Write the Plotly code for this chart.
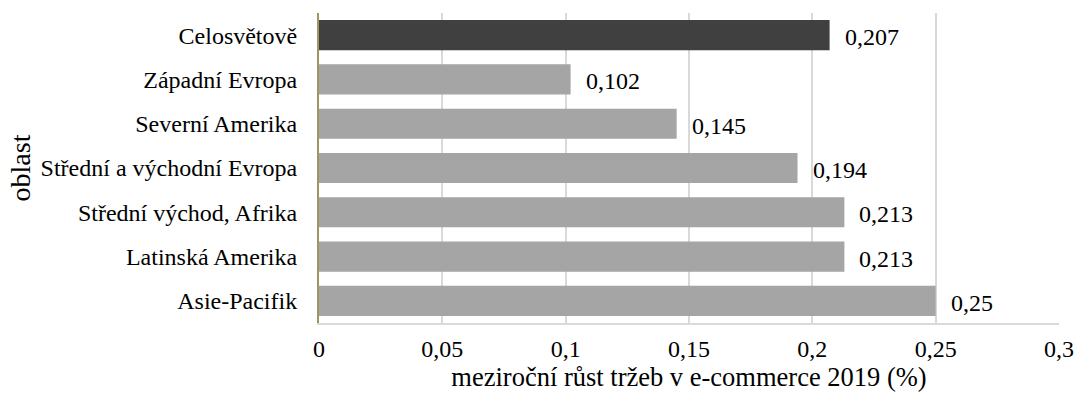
import plotly.graph_objects as go

categories = ["Celosvětově", "Západní Evropa", "Severní Amerika",
              "Střední a východní Evropa", "Střední východ, Afrika",
              "Latinská Amerika", "Asie-Pacifik"]
values = [0.207, 0.102, 0.145, 0.194, 0.213, 0.213, 0.25]
value_labels = ["0,207", "0,102", "0,145", "0,194", "0,213", "0,213", "0,25"]
bar_colors = ["#404040"] + ["#a5a5a5"] * 6
tick_vals = [0, 0.05, 0.1, 0.15, 0.2, 0.25, 0.3]
tick_text = ["0", "0,05", "0,1", "0,15", "0,2", "0,25", "0,3"]

FONT = "Liberation Serif"

fig = go.Figure()
fig.add_trace(go.Bar(
    y=categories, x=values, orientation="h",
    marker=dict(color=bar_colors, line=dict(width=0)),
    width=0.68, showlegend=False, hoverinfo="skip",
))

for c, v, t in zip(categories, values, value_labels):
    fig.add_annotation(x=v, y=c, text=t, showarrow=False, xanchor="left",
                       xshift=13, yshift=-2, font=dict(family=FONT, size=24, color="#000"))

fig.update_layout(
    width=1076, height=401,
    margin=dict(l=319, r=17, t=13, b=78),
    paper_bgcolor="white", plot_bgcolor="white",
    font=dict(family=FONT, size=24, color="#000"),
)
fig.update_xaxes(
    range=[0, 0.3], tickvals=tick_vals, ticktext=tick_text,
    showgrid=True, gridcolor="#d9d9d9", gridwidth=2,
    showline=True, linecolor="#d9d9d9", linewidth=2,
    zeroline=False, ticks="", ticklen=0, automargin=False,
    ticklabelstandoff=3,
    title=dict(text="meziroční růst tržeb v e-commerce 2019 (%)", standoff=3,
               font=dict(family=FONT, size=26.5)),
    tickfont=dict(family=FONT, size=24),
)
fig.update_yaxes(
    autorange="reversed", showline=True, linecolor="#a09462", linewidth=2,
    showgrid=False, ticks="", ticklen=0, automargin=False,
    ticklabelstandoff=15,
    title=dict(text="oblast", standoff=2, font=dict(family=FONT, size=28)),
    tickfont=dict(family=FONT, size=24),
)

fig.write_html(
    "out.html",
    config={"displayModeBar": False},
    default_width="1076px", default_height="401px",
    post_script="document.body.style.margin='0';document.body.style.overflow='hidden';",
)
